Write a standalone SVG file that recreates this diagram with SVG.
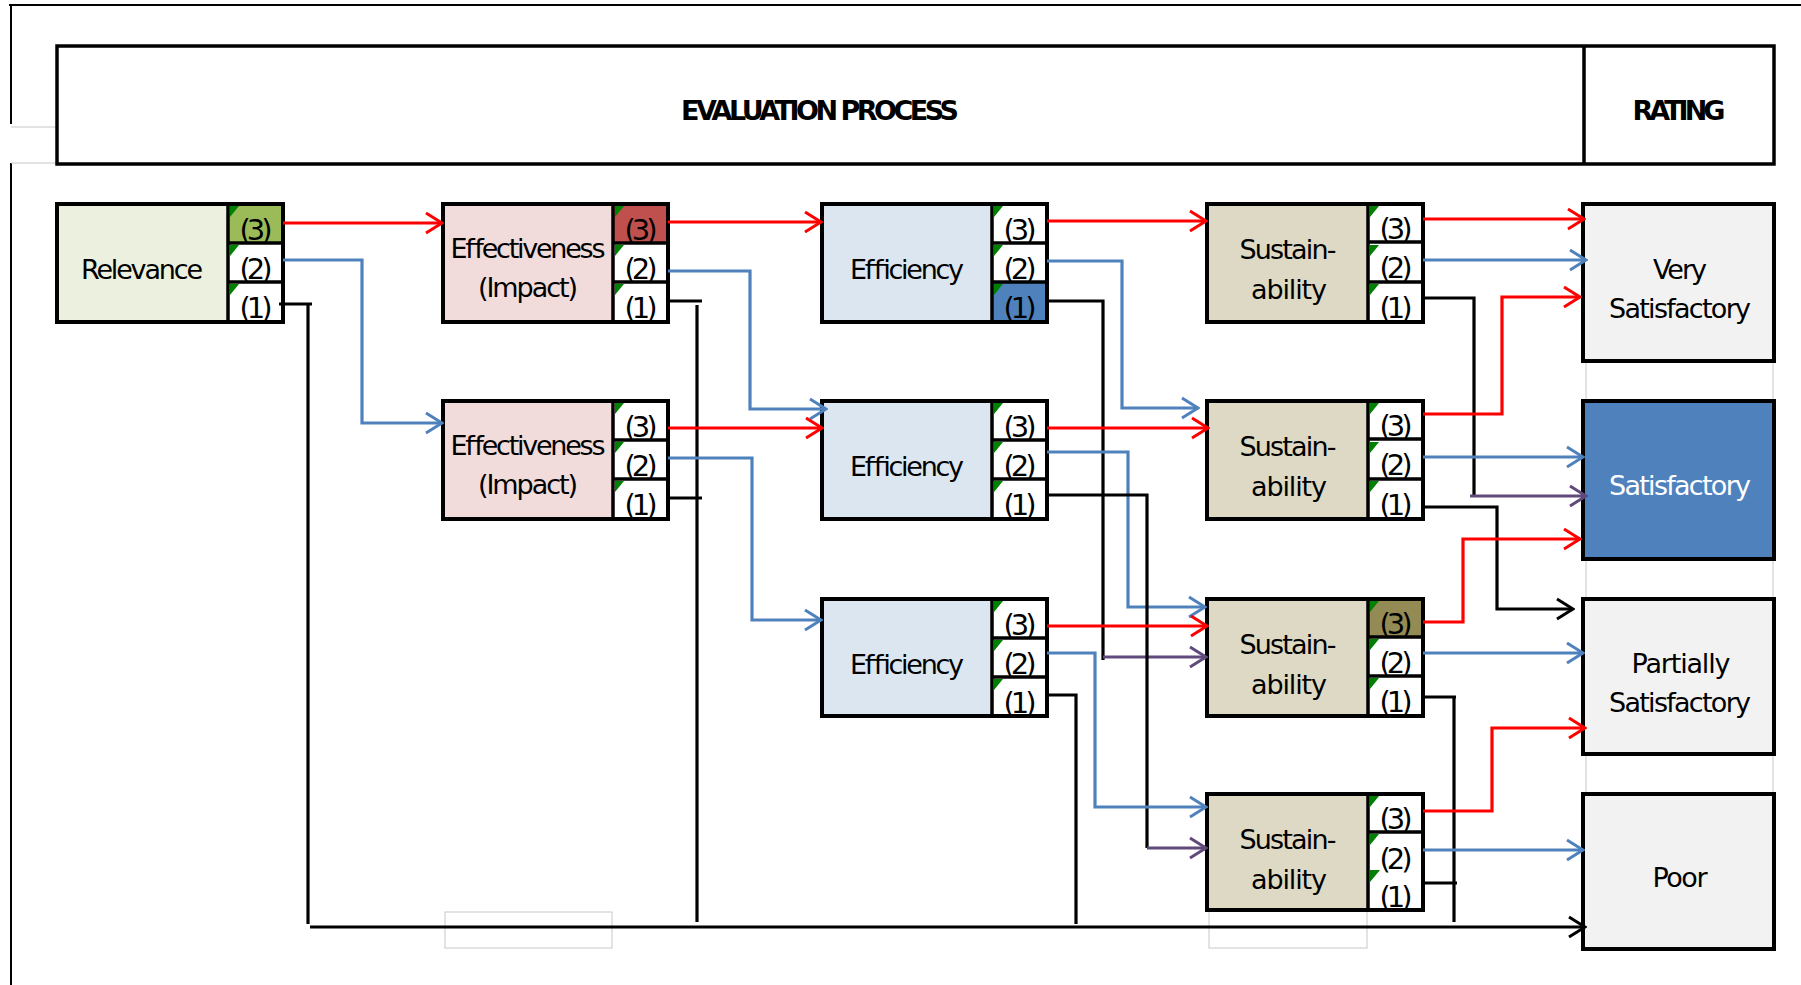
<svg xmlns="http://www.w3.org/2000/svg" width="1801" height="985" viewBox="0 0 1801 985">
<style>
.bx{fill:none;stroke:#000;stroke-width:4}
.dv{stroke:#000;stroke-width:3.5}
.slot{fill:#fff}
.gc{fill:#008000}
.t{font-family:"DejaVu Sans","Liberation Sans",sans-serif;font-size:27px;fill:#000;text-anchor:middle}
.s{font-family:"DejaVu Sans","Liberation Sans",sans-serif;font-size:29px;fill:#000;text-anchor:middle}
.h{font-family:"DejaVu Sans","Liberation Sans",sans-serif;font-size:27px;font-weight:bold;fill:#000;text-anchor:middle}
.fr{stroke:#000;stroke-width:2;fill:none}
.gr{stroke:#c8c8c8;stroke-width:1;fill:none}
.cr{stroke:#ff0000;stroke-width:3.2;fill:none}
.cb{stroke:#4f81bd;stroke-width:3.2;fill:none}
.cp{stroke:#604a7b;stroke-width:3.2;fill:none}
.ck{stroke:#000;stroke-width:3.2;fill:none}
</style>
<defs>
<marker id="ar" viewBox="-19 -12 21 24" refX="0" refY="0" markerWidth="21" markerHeight="24" orient="auto" markerUnits="userSpaceOnUse"><path d="M-16,-10 L0,0 L-16,10" fill="none" stroke="#ff0000" stroke-width="3"/></marker>
<marker id="ab" viewBox="-19 -12 21 24" refX="0" refY="0" markerWidth="21" markerHeight="24" orient="auto" markerUnits="userSpaceOnUse"><path d="M-16,-10 L0,0 L-16,10" fill="none" stroke="#4f81bd" stroke-width="3"/></marker>
<marker id="ap" viewBox="-19 -12 21 24" refX="0" refY="0" markerWidth="21" markerHeight="24" orient="auto" markerUnits="userSpaceOnUse"><path d="M-16,-10 L0,0 L-16,10" fill="none" stroke="#604a7b" stroke-width="3"/></marker>
<marker id="ak" viewBox="-19 -12 21 24" refX="0" refY="0" markerWidth="21" markerHeight="24" orient="auto" markerUnits="userSpaceOnUse"><path d="M-16,-10 L0,0 L-16,10" fill="none" stroke="#000" stroke-width="3"/></marker>
</defs>
<rect width="1801" height="985" fill="#fff"/>

<g id="frame">
<path class="fr" d="M9,5 H1801 M11,5 V124 M11,163 V985"/>
<path class="gr" d="M11,127 H57 M11,163 H57"/>
<path class="gr" d="M1586,361 V794 M1773,361 V794"/>
<rect class="gr" x="445" y="912" width="167" height="36"/>
<rect class="gr" x="1209" y="910" width="158" height="38"/>
</g>

<g id="header">
<rect x="57" y="46" width="1717" height="118" fill="#fff" stroke="#000" stroke-width="3.5"/>
<line class="dv" x1="1584" y1="46" x2="1584" y2="164"/>
<text class="h" x="820" y="120" textLength="278" lengthAdjust="spacing">EVALUATION PROCESS</text>
<text class="h" x="1679" y="120" textLength="93" lengthAdjust="spacing">RATING</text>
</g>

<!-- Relevance -->
<g id="n-relevance">
<rect x="57" y="204" width="171" height="118" fill="#ebf1de"/>
<rect class="slot" x="228" y="204" width="55" height="118"/>
<rect x="228" y="204" width="55" height="39" fill="#9bbb59"/>
<path class="gc" d="M230,206 h9 l-9,11 z M230,245 h9 l-9,11 z M230,284 h9 l-9,11 z"/>
<text class="t" x="142" y="279" textLength="122" lengthAdjust="spacing">Relevance</text>
<text class="s" x="256" y="240" textLength="33" lengthAdjust="spacing">(3)</text>
<text class="s" x="256" y="279" textLength="33" lengthAdjust="spacing">(2)</text>
<text class="s" x="256" y="318" textLength="33" lengthAdjust="spacing">(1)</text>
<path class="dv" d="M228,204 V322 M228,243 H283 M228,282 H283"/>
<rect class="bx" x="57" y="204" width="226" height="118"/>
</g>

<!-- Effectiveness 1 -->
<g id="n-effectiveness-1">
<rect x="443" y="204" width="170" height="118" fill="#f2dcdb"/>
<rect class="slot" x="613" y="204" width="55" height="118"/>
<rect x="613" y="204" width="55" height="39" fill="#c0504d"/>
<path class="gc" d="M615,206 h9 l-9,11 z M615,245 h9 l-9,11 z M615,284 h9 l-9,11 z"/>
<text class="t" x="528" y="258" textLength="155" lengthAdjust="spacing">Effectiveness</text>
<text class="t" x="528" y="297" textLength="100" lengthAdjust="spacing">(Impact)</text>
<text class="s" x="641" y="240" textLength="33" lengthAdjust="spacing">(3)</text>
<text class="s" x="641" y="279" textLength="33" lengthAdjust="spacing">(2)</text>
<text class="s" x="641" y="318" textLength="33" lengthAdjust="spacing">(1)</text>
<path class="dv" d="M613,204 V322 M613,243 H668 M613,282 H668"/>
<rect class="bx" x="443" y="204" width="225" height="118"/>
</g>

<!-- Effectiveness 2 -->
<g id="n-effectiveness-2">
<rect x="443" y="401" width="170" height="118" fill="#f2dcdb"/>
<rect class="slot" x="613" y="401" width="55" height="118"/>
<path class="gc" d="M615,403 h9 l-9,11 z M615,442 h9 l-9,11 z M615,481 h9 l-9,11 z"/>
<text class="t" x="528" y="455" textLength="155" lengthAdjust="spacing">Effectiveness</text>
<text class="t" x="528" y="494" textLength="100" lengthAdjust="spacing">(Impact)</text>
<text class="s" x="641" y="437" textLength="33" lengthAdjust="spacing">(3)</text>
<text class="s" x="641" y="476" textLength="33" lengthAdjust="spacing">(2)</text>
<text class="s" x="641" y="515" textLength="33" lengthAdjust="spacing">(1)</text>
<path class="dv" d="M613,401 V519 M613,440 H668 M613,479 H668"/>
<rect class="bx" x="443" y="401" width="225" height="118"/>
</g>

<!-- Efficiency 1 -->
<g id="n-efficiency-1">
<rect x="822" y="204" width="170" height="118" fill="#dce6f1"/>
<rect class="slot" x="992" y="204" width="55" height="118"/>
<rect x="992" y="282" width="55" height="40" fill="#4f81bd"/>
<path class="gc" d="M994,206 h9 l-9,11 z M994,245 h9 l-9,11 z M994,284 h9 l-9,11 z"/>
<text class="t" x="907" y="279" textLength="114" lengthAdjust="spacing">Efficiency</text>
<text class="s" x="1020" y="240" textLength="33" lengthAdjust="spacing">(3)</text>
<text class="s" x="1020" y="279" textLength="33" lengthAdjust="spacing">(2)</text>
<text class="s" x="1020" y="318" textLength="33" lengthAdjust="spacing">(1)</text>
<path class="dv" d="M992,204 V322 M992,243 H1047 M992,282 H1047"/>
<rect class="bx" x="822" y="204" width="225" height="118"/>
</g>

<!-- Efficiency 2 -->
<g id="n-efficiency-2">
<rect x="822" y="401" width="170" height="118" fill="#dce6f1"/>
<rect class="slot" x="992" y="401" width="55" height="118"/>
<path class="gc" d="M994,403 h9 l-9,11 z M994,442 h9 l-9,11 z M994,481 h9 l-9,11 z"/>
<text class="t" x="907" y="476" textLength="114" lengthAdjust="spacing">Efficiency</text>
<text class="s" x="1020" y="437" textLength="33" lengthAdjust="spacing">(3)</text>
<text class="s" x="1020" y="476" textLength="33" lengthAdjust="spacing">(2)</text>
<text class="s" x="1020" y="515" textLength="33" lengthAdjust="spacing">(1)</text>
<path class="dv" d="M992,401 V519 M992,440 H1047 M992,479 H1047"/>
<rect class="bx" x="822" y="401" width="225" height="118"/>
</g>

<!-- Efficiency 3 -->
<g id="n-efficiency-3">
<rect x="822" y="599" width="170" height="117" fill="#dce6f1"/>
<rect class="slot" x="992" y="599" width="55" height="117"/>
<path class="gc" d="M994,601 h9 l-9,11 z M994,640 h9 l-9,11 z M994,679 h9 l-9,11 z"/>
<text class="t" x="907" y="674" textLength="114" lengthAdjust="spacing">Efficiency</text>
<text class="s" x="1020" y="635" textLength="33" lengthAdjust="spacing">(3)</text>
<text class="s" x="1020" y="674" textLength="33" lengthAdjust="spacing">(2)</text>
<text class="s" x="1020" y="713" textLength="33" lengthAdjust="spacing">(1)</text>
<path class="dv" d="M992,599 V716 M992,638 H1047 M992,677 H1047"/>
<rect class="bx" x="822" y="599" width="225" height="117"/>
</g>

<!-- Sustainability 1 -->
<g id="n-sustainability-1">
<rect x="1207" y="204" width="161" height="118" fill="#ddd9c4"/>
<rect class="slot" x="1368" y="204" width="55" height="118"/>
<path class="gc" d="M1370,206 h9 l-9,11 z M1370,245 h9 l-9,11 z M1370,284 h9 l-9,11 z"/>
<text class="t" x="1288" y="259" textLength="97" lengthAdjust="spacing">Sustain-</text>
<text class="t" x="1289" y="299" textLength="76" lengthAdjust="spacing">ability</text>
<text class="s" x="1396" y="239" textLength="33" lengthAdjust="spacing">(3)</text>
<text class="s" x="1396" y="278" textLength="33" lengthAdjust="spacing">(2)</text>
<text class="s" x="1396" y="318" textLength="33" lengthAdjust="spacing">(1)</text>
<path class="dv" d="M1368,204 V322 M1368,242 H1423 M1368,282 H1423"/>
<rect class="bx" x="1207" y="204" width="216" height="118"/>
</g>

<!-- Sustainability 2 -->
<g id="n-sustainability-2">
<rect x="1207" y="401" width="161" height="118" fill="#ddd9c4"/>
<rect class="slot" x="1368" y="401" width="55" height="118"/>
<path class="gc" d="M1370,403 h9 l-9,11 z M1370,442 h9 l-9,11 z M1370,481 h9 l-9,11 z"/>
<text class="t" x="1288" y="456" textLength="97" lengthAdjust="spacing">Sustain-</text>
<text class="t" x="1289" y="496" textLength="76" lengthAdjust="spacing">ability</text>
<text class="s" x="1396" y="436" textLength="33" lengthAdjust="spacing">(3)</text>
<text class="s" x="1396" y="475" textLength="33" lengthAdjust="spacing">(2)</text>
<text class="s" x="1396" y="515" textLength="33" lengthAdjust="spacing">(1)</text>
<path class="dv" d="M1368,401 V519 M1368,439 H1423 M1368,479 H1423"/>
<rect class="bx" x="1207" y="401" width="216" height="118"/>
</g>

<!-- Sustainability 3 -->
<g id="n-sustainability-3">
<rect x="1207" y="599" width="161" height="117" fill="#ddd9c4"/>
<rect class="slot" x="1368" y="599" width="55" height="117"/>
<rect x="1368" y="599" width="55" height="38" fill="#948a54"/>
<path class="gc" d="M1370,601 h9 l-9,11 z M1370,639 h9 l-9,11 z M1370,678 h9 l-9,11 z"/>
<text class="t" x="1288" y="654" textLength="97" lengthAdjust="spacing">Sustain-</text>
<text class="t" x="1289" y="694" textLength="76" lengthAdjust="spacing">ability</text>
<text class="s" x="1396" y="634" textLength="33" lengthAdjust="spacing">(3)</text>
<text class="s" x="1396" y="673" textLength="33" lengthAdjust="spacing">(2)</text>
<text class="s" x="1396" y="712" textLength="33" lengthAdjust="spacing">(1)</text>
<path class="dv" d="M1368,599 V716 M1368,637 H1423 M1368,676 H1423"/>
<rect class="bx" x="1207" y="599" width="216" height="117"/>
</g>

<!-- Sustainability 4 -->
<g id="n-sustainability-4">
<rect x="1207" y="794" width="161" height="116" fill="#ddd9c4"/>
<rect class="slot" x="1368" y="794" width="55" height="116"/>
<path class="gc" d="M1370,796 h9 l-9,11 z M1370,834 h9 l-9,11 z M1370,870 h10 l-10,12 z"/>
<text class="t" x="1288" y="849" textLength="97" lengthAdjust="spacing">Sustain-</text>
<text class="t" x="1289" y="889" textLength="76" lengthAdjust="spacing">ability</text>
<text class="s" x="1396" y="829" textLength="33" lengthAdjust="spacing">(3)</text>
<text class="s" x="1396" y="869" textLength="33" lengthAdjust="spacing">(2)</text>
<text class="s" x="1396" y="907" textLength="33" lengthAdjust="spacing">(1)</text>
<path class="dv" d="M1368,794 V910 M1368,832 H1423"/>
<rect class="bx" x="1207" y="794" width="216" height="116"/>
</g>

<!-- Ratings -->
<g id="n-very-satisfactory">
<rect x="1583" y="204" width="191" height="157" fill="#f2f2f2" stroke="#000" stroke-width="4"/>
<text class="t" x="1680" y="279" textLength="54" lengthAdjust="spacing">Very</text>
<text class="t" x="1680" y="318" textLength="142" lengthAdjust="spacing">Satisfactory</text>
</g>
<g id="n-satisfactory">
<rect x="1583" y="401" width="191" height="158" fill="#4f81bd" stroke="#000" stroke-width="4"/>
<text class="t" x="1680" y="495" textLength="142" lengthAdjust="spacing" style="fill:#fff">Satisfactory</text>
</g>
<g id="n-partially-satisfactory">
<rect x="1583" y="599" width="191" height="155" fill="#f2f2f2" stroke="#000" stroke-width="4"/>
<text class="t" x="1681" y="673" textLength="99" lengthAdjust="spacing">Partially</text>
<text class="t" x="1680" y="712" textLength="142" lengthAdjust="spacing">Satisfactory</text>
</g>
<g id="n-poor">
<rect x="1583" y="794" width="191" height="155" fill="#f2f2f2" stroke="#000" stroke-width="4"/>
<text class="t" x="1680" y="887" textLength="55" lengthAdjust="spacing">Poor</text>
</g>

<g id="connectors">
<!-- Relevance -->
<polyline class="cr" points="283,223 442,223" marker-end="url(#ar)"/>
<polyline class="cb" points="283,260 362,260 362,423 442,423" marker-end="url(#ab)"/>
<polyline class="ck" points="279,304 312,304"/>
<polyline class="ck" points="308,304 308,924"/>
<polyline class="ck" points="310,927 1585,927" marker-end="url(#ak)"/>
<!-- Effectiveness 1 -->
<polyline class="cr" points="668,222 821,222" marker-end="url(#ar)"/>
<polyline class="cb" points="668,271 750,271 750,409 826,409" marker-end="url(#ab)"/>
<polyline class="ck" points="668,301 702,301"/>
<polyline class="ck" points="697,305 697,922"/>
<!-- Effectiveness 2 -->
<polyline class="cr" points="668,428 822,428" marker-end="url(#ar)"/>
<polyline class="cb" points="668,458 752,458 752,620 821,620" marker-end="url(#ab)"/>
<polyline class="ck" points="668,498 702,498"/>
<!-- Efficiency 1 -->
<polyline class="cr" points="1047,221 1206,221" marker-end="url(#ar)"/>
<polyline class="cb" points="1047,261 1122,261 1122,408 1198,408" marker-end="url(#ab)"/>
<polyline class="ck" points="1047,301 1103,301 1103,660"/>
<polyline class="cp" points="1103,657 1206,657" marker-end="url(#ap)"/>
<!-- Efficiency 2 -->
<polyline class="cr" points="1047,428 1208,428" marker-end="url(#ar)"/>
<polyline class="cb" points="1047,452 1128,452 1128,607 1205,607" marker-end="url(#ab)"/>
<polyline class="ck" points="1047,495 1147,495 1147,848"/>
<polyline class="cp" points="1147,848 1206,848" marker-end="url(#ap)"/>
<!-- Efficiency 3 -->
<polyline class="cr" points="1047,626 1207,626" marker-end="url(#ar)"/>
<polyline class="cb" points="1047,653 1095,653 1095,807 1206,807" marker-end="url(#ab)"/>
<polyline class="ck" points="1047,695 1076,695 1076,924"/>
<!-- Sustainability 1 -->
<polyline class="cr" points="1423,219 1584,219" marker-end="url(#ar)"/>
<polyline class="cb" points="1423,260 1586,260" marker-end="url(#ab)"/>
<polyline class="ck" points="1423,298 1474,298 1474,496"/>
<polyline class="cp" points="1470,496 1586,496" marker-end="url(#ap)"/>
<!-- Sustainability 2 -->
<polyline class="cr" points="1423,414 1502,414 1502,297 1580,297" marker-end="url(#ar)"/>
<polyline class="cb" points="1423,457 1583,457" marker-end="url(#ab)"/>
<polyline class="ck" points="1423,507 1497,507 1497,609 1573,609" marker-end="url(#ak)"/>
<!-- Sustainability 3 -->
<polyline class="cr" points="1423,622 1463,622 1463,539 1580,539" marker-end="url(#ar)"/>
<polyline class="cb" points="1423,653 1583,653" marker-end="url(#ab)"/>
<polyline class="ck" points="1423,697 1456,697"/>
<polyline class="ck" points="1454,697 1454,922"/>
<!-- Sustainability 4 -->
<polyline class="cr" points="1423,811 1492,811 1492,728 1585,728" marker-end="url(#ar)"/>
<polyline class="cb" points="1423,850 1583,850" marker-end="url(#ab)"/>
<polyline class="ck" points="1423,883 1457,883"/>
</g>
</svg>
